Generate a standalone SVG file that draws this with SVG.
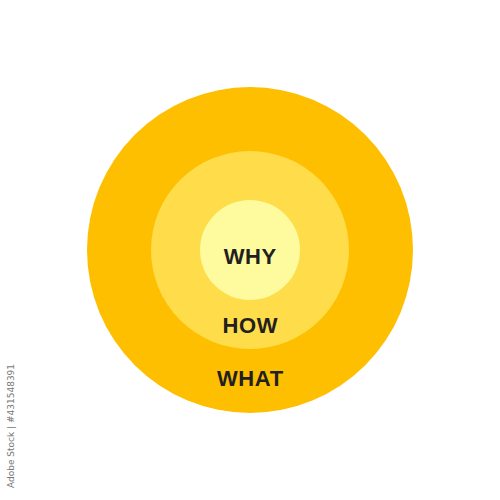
<svg xmlns="http://www.w3.org/2000/svg" width="500" height="500" viewBox="0 0 500 500">
<style>
.lbl{font-family:"Liberation Sans",Arial,sans-serif;font-weight:bold;font-size:22px;fill:#231f20;text-anchor:middle;letter-spacing:0.6px}
.wm{font-family:"DejaVu Sans",sans-serif;font-size:9px;fill:#777}
</style>
<rect width="500" height="500" fill="#ffffff"/>
<g id="what">
<circle cx="250" cy="250" r="163" fill="#fdbf00"/>
<text class="lbl" x="250.3" y="385.5">WHAT</text>
</g>
<g id="how">
<circle cx="250" cy="250" r="99" fill="#fedc4a"/>
<text class="lbl" x="250.3" y="332.5">HOW</text>
</g>
<g id="why">
<circle cx="250" cy="250" r="50" fill="#fdfb9e"/>
<text class="lbl" x="250.3" y="263.5">WHY</text>
</g>
<g id="connectors"></g>
<text class="wm" transform="translate(14,488) rotate(-90)">Adobe Stock | #431548391</text>
</svg>
